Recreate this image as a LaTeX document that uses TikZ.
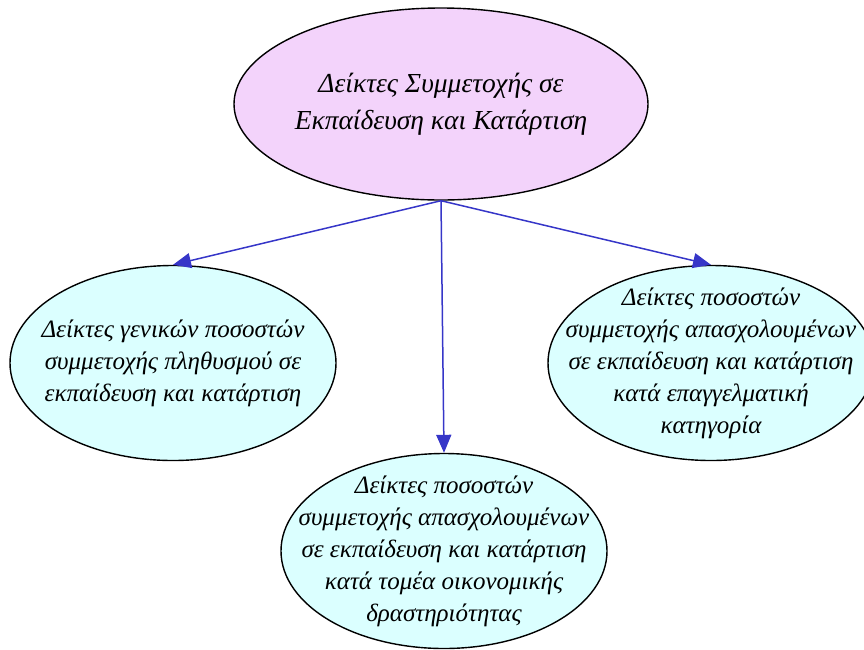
\documentclass[tikz,border=0pt]{standalone}
\usepackage{fontspec}
\setmainfont{Liberation Serif}
\usepackage{xcolor}
\usepackage{tikz}
\usetikzlibrary{positioning, arrows.meta, shapes.geometric}
\definecolor{rootfill}{HTML}{F3D3FB}
\definecolor{leaffill}{HTML}{DBFFFF}
\definecolor{linkblue}{HTML}{3636C8}
\tikzset{
    root/.style={ellipse, draw=black, line width=1.4pt, fill=rootfill, inner xsep=-20pt, inner ysep=-10pt, align=center, minimum width=414pt, minimum height=192pt, font=\itshape\fontsize{27.5}{37}\selectfont},
    leaf/.style={ellipse, draw=black, line width=1.4pt, fill=leaffill, inner xsep=-40pt, inner ysep=-16pt, align=center, minimum width=326pt, minimum height=195pt, font=\itshape\fontsize{25}{32}\selectfont},
    arrow/.style={-{Triangle[length=18pt, width=15pt]}, draw=linkblue, fill=linkblue, line width=1.5pt}
}

\begin{document}
\begin{tikzpicture}[x=1pt, y=-1pt]
        \useasboundingbox (0,0) rectangle (864,649);
        % Nodes
        \node[root] (R) at (441,104) {Δείκτες Συμμετοχής σε\\Εκπαίδευση και Κατάρτιση};
        \node[leaf] (L) at (173,363) {Δείκτες γενικών ποσοστών\\συμμετοχής πληθυσμού σε\\εκπαίδευση και κατάρτιση};
        \node[leaf] (M) at (444,551) {Δείκτες ποσοστών\\συμμετοχής απασχολουμένων\\σε εκπαίδευση και κατάρτιση\\κατά τομέα οικονομικής\\δραστηριότητας};
        \node[leaf] (D) at (711,363) {Δείκτες ποσοστών\\συμμετοχής απασχολουμένων\\σε εκπαίδευση και κατάρτιση\\κατά επαγγελματική\\κατηγορία};
        
        % Edges
        \draw[arrow] (R.south) -- (L.north);
        \draw[arrow] (R.south) -- (M.north);
        \draw[arrow] (R.south) -- (D.north);
        
    \end{tikzpicture}
\end{document}
